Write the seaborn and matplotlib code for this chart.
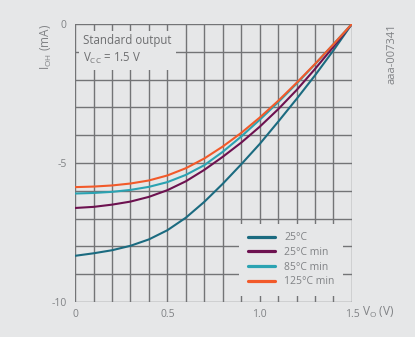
import numpy as np
import pandas as pd
import matplotlib
matplotlib.use("Agg")
import matplotlib.pyplot as plt
import seaborn as sns

# output voltage (V)
v_out = [0.0, 0.1, 0.2, 0.3, 0.4, 0.5, 0.6, 0.7, 0.8, 0.9, 1.0, 1.1, 1.2, 1.3, 1.4, 1.5]

# output high current (mA)
i_25 = [-8.34, -8.25, -8.14, -7.98, -7.75, -7.42, -6.97, -6.40, -5.75, -5.05, -4.32, -3.52, -2.70, -1.85, -0.95, 0.0]
i_25min = [-6.62, -6.58, -6.50, -6.39, -6.22, -5.98, -5.66, -5.25, -4.78, -4.27, -3.70, -3.07, -2.38, -1.62, -0.82, 0.0]
i_85min = [-6.10, -6.08, -6.04, -5.97, -5.86, -5.69, -5.43, -5.08, -4.60, -4.05, -3.45, -2.82, -2.15, -1.45, -0.73, 0.0]
i_125min = [-5.87, -5.85, -5.81, -5.74, -5.63, -5.45, -5.19, -4.84, -4.41, -3.92, -3.37, -2.77, -2.12, -1.44, -0.73, 0.0]

series = ["25°C", "25°C min", "85°C min", "125°C min"]
colors = ["#1b6b80", "#6d1250", "#2ba3b2", "#f25a2a"]

x_ticks = [0, 0.5, 1.0, 1.5]
x_ticklabels = ["0", "0.5", "1.0", "1.5"]
y_ticks = [0, -5, -10]
y_ticklabels = ["0", "-5", "-10"]

df = pd.concat([
    pd.DataFrame({"V": v_out, "I": vals, "curve": name})
    for name, vals in zip(series, [i_25, i_25min, i_85min, i_125min])
])

bg = "#e6e7e8"
grid_col = "#737476"
text_col = "#808285"

sns.set_theme(style="white")
plt.rcParams["font.family"] = ["Open Sans", "DejaVu Sans"]

fig = plt.figure(figsize=(4.15, 3.37), dpi=100, facecolor=bg)
ax = fig.add_axes([0.181, 0.104, 0.667, 0.825], facecolor=bg)

sns.lineplot(data=df, x="V", y="I", hue="curve", hue_order=series,
             palette=colors, linewidth=1.5, ax=ax, legend=False, zorder=3)

ax.set_xlim(0, 1.5)
ax.set_ylim(-10, 0)
ax.set_xticks(np.arange(0, 1.51, 0.1), minor=True)
ax.set_yticks(np.arange(-10, 0.1, 1), minor=True)
ax.set_xticks(x_ticks)
ax.set_xticklabels(x_ticklabels)
ax.set_yticks(y_ticks)
ax.set_yticklabels(y_ticklabels)
ax.grid(True, which="both", color=grid_col, linewidth=1.0, zorder=1)
ax.set_axisbelow(True)
for s in ax.spines.values():
    s.set_visible(False)
ax.tick_params(axis="x", which="both", length=0, pad=5, labelsize=7.5, labelcolor=text_col)
ax.tick_params(axis="y", which="major", length=3, width=1.0, color=grid_col, pad=3,
               labelsize=7.5, labelcolor=text_col)
ax.tick_params(axis="y", which="minor", length=0)
ax.set_xlabel("")
ax.set_ylabel("")

# axis titles
fig.text(0.872, 0.073, "V$_\\mathregular{O}$ (V)", fontsize=8.5, color=text_col, ha="left", va="center")
fig.text(0.113, 0.93, "I$_\\mathregular{OH}$ (mA)", fontsize=8.5, color=text_col,
         rotation=90, ha="center", va="top")
fig.text(0.945, 0.93, "aaa-007341", fontsize=8, color=text_col, rotation=90, ha="center", va="top")

# condition box
ax.text(0.03, 0.965, "Standard output\nV$_\\mathregular{CC}$ = 1.5 V", transform=ax.transAxes,
        fontsize=8.3, color="#6d6e70", ha="left", va="top", linespacing=1.4, zorder=4,
        bbox=dict(boxstyle="square,pad=0.35", facecolor=bg, edgecolor="none"))

handles = [plt.Line2D([], [], color=c, linewidth=2.3) for c in colors]
leg = ax.legend(handles, series, loc="lower right", bbox_to_anchor=(0.975, 0.015),
                frameon=True, fontsize=7.5, handlelength=2.6, handletextpad=0.9,
                labelspacing=0.35, borderpad=0.5)
leg.get_frame().set_facecolor(bg)
leg.get_frame().set_edgecolor("none")
leg.get_frame().set_alpha(1)
leg.get_frame().set_boxstyle("square")
leg.set_zorder(5)
for t in leg.get_texts():
    t.set_color(text_col)

fig.savefig("out.png", dpi=100, facecolor=bg)
plt.close()
